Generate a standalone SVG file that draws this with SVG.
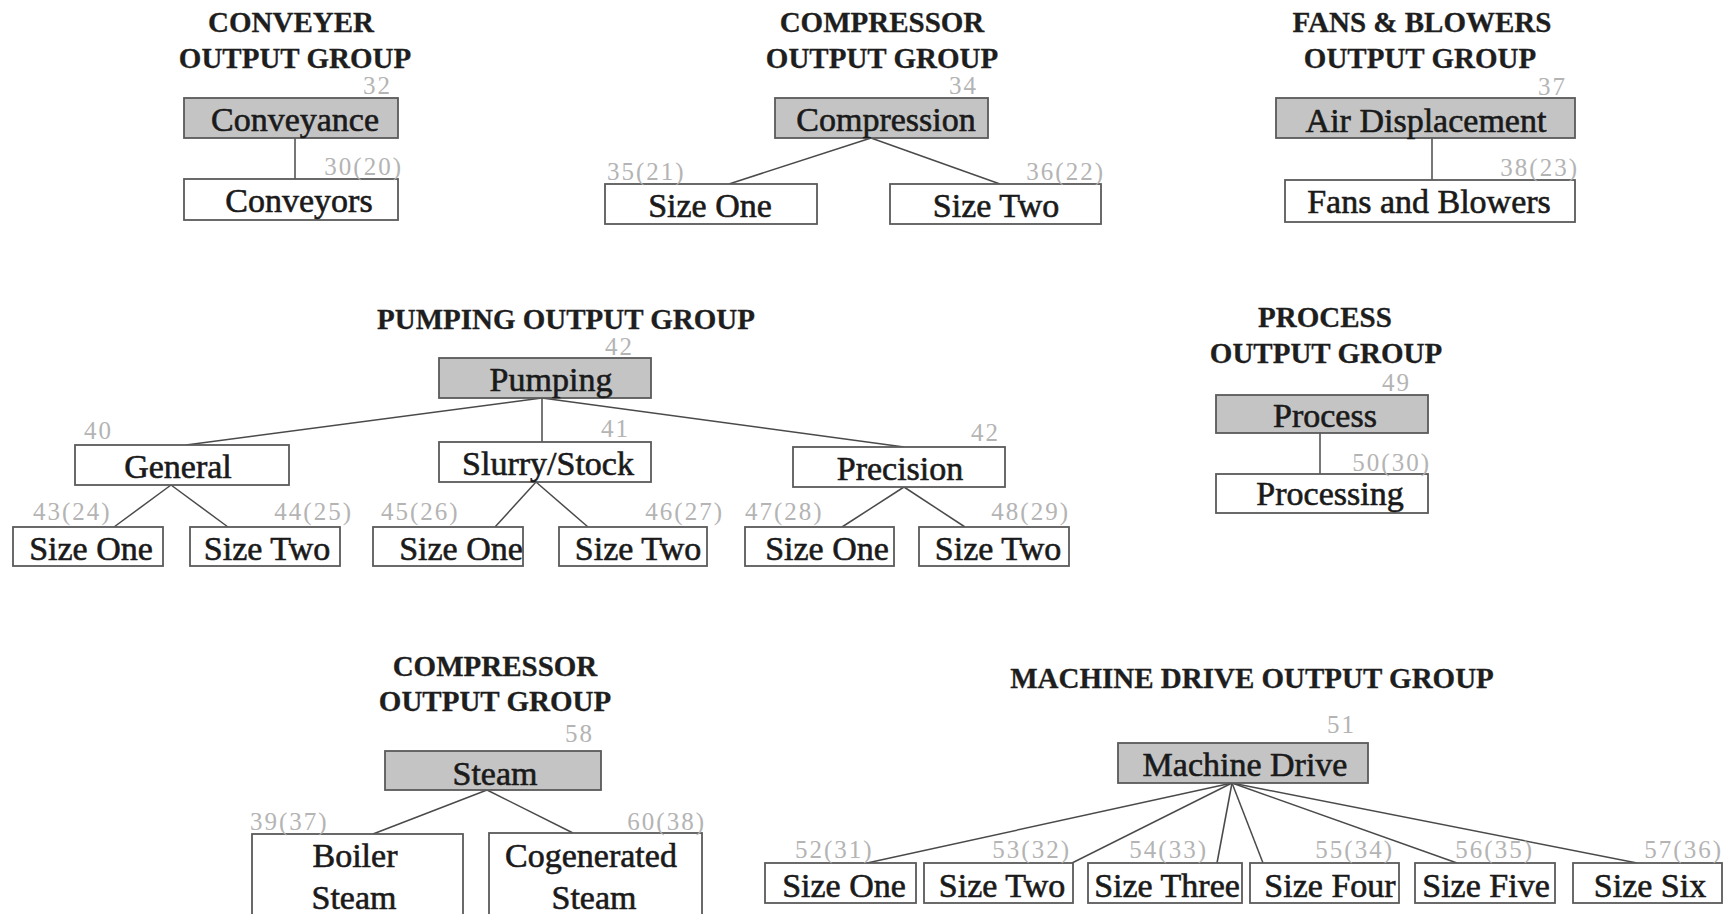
<svg xmlns="http://www.w3.org/2000/svg" width="1731" height="914" viewBox="0 0 1731 914">
  <style>
    .title { font-family: "Liberation Serif", "Times New Roman", serif; font-weight: bold; font-size: 29px; fill: #1e1e1e; stroke: #1e1e1e; stroke-width: 0.3; text-anchor: middle; }
    .lbl { font-family: "Liberation Serif", "Times New Roman", serif; font-size: 34px; fill: #1a1a1a; stroke: #1a1a1a; stroke-width: 0.6; text-anchor: middle; }
    .num { font-family: "Liberation Serif", "Times New Roman", serif; font-size: 25px; fill: #b4b4b4; letter-spacing: 2px; }
    .end { text-anchor: end; }
    .box { fill: #ffffff; stroke: #5a5a5a; stroke-width: 1.8; }
    .head { fill: #c4c4c4; stroke: #5a5a5a; stroke-width: 1.8; }
    .conn line { stroke: #4a4a4a; stroke-width: 1.5; }
  </style>
  <rect width="1731" height="914" fill="#ffffff"/>

  <!-- group titles -->
  <g id="titles">
    <text class="title" x="291" y="32">CONVEYER</text>
    <text class="title" x="295" y="68">OUTPUT GROUP</text>
    <text class="title" x="882" y="32">COMPRESSOR</text>
    <text class="title" x="882" y="68">OUTPUT GROUP</text>
    <text class="title" x="1422" y="32">FANS &amp; BLOWERS</text>
    <text class="title" x="1420" y="68">OUTPUT GROUP</text>
    <text class="title" x="566" y="329">PUMPING OUTPUT GROUP</text>
    <text class="title" x="1325" y="327">PROCESS</text>
    <text class="title" x="1326" y="363">OUTPUT GROUP</text>
    <text class="title" x="495" y="676">COMPRESSOR</text>
    <text class="title" x="495" y="711">OUTPUT GROUP</text>
    <text class="title" x="1252" y="688">MACHINE DRIVE OUTPUT GROUP</text>
  </g>

  <!-- connectors -->
  <g id="connectors" class="conn">
    <line x1="295" y1="138" x2="295" y2="179"/>
    <line x1="871" y1="138" x2="729" y2="184"/>
    <line x1="871" y1="138" x2="1000" y2="184"/>
    <line x1="1432" y1="138" x2="1432" y2="180"/>

    <line x1="542" y1="398" x2="186" y2="445"/>
    <line x1="542" y1="398" x2="542" y2="442"/>
    <line x1="542" y1="398" x2="904" y2="447"/>
    <line x1="171" y1="485" x2="114" y2="527"/>
    <line x1="171" y1="485" x2="228" y2="527"/>
    <line x1="536" y1="482" x2="495" y2="527"/>
    <line x1="536" y1="482" x2="588" y2="527"/>
    <line x1="904" y1="487" x2="842" y2="527"/>
    <line x1="904" y1="487" x2="965" y2="527"/>

    <line x1="1320" y1="433" x2="1320" y2="474"/>

    <line x1="487" y1="790" x2="373" y2="834"/>
    <line x1="487" y1="790" x2="573" y2="833"/>

    <line x1="1232" y1="783" x2="867" y2="863"/>
    <line x1="1232" y1="783" x2="1072" y2="863"/>
    <line x1="1232" y1="783" x2="1217" y2="863"/>
    <line x1="1232" y1="783" x2="1263" y2="863"/>
    <line x1="1232" y1="783" x2="1457" y2="863"/>
    <line x1="1232" y1="783" x2="1637" y2="863"/>
  </g>

  <!-- conveyer group -->
  <g id="n32-conveyance">
    <rect class="head" x="184" y="98" width="214" height="40"/>
    <text class="lbl" x="295" y="131">Conveyance</text>
    <text class="num end" x="392" y="94">32</text>
  </g>
  <g id="n30-conveyors">
    <rect class="box" x="184" y="179" width="214" height="41"/>
    <text class="lbl" x="299" y="212">Conveyors</text>
    <text class="num end" x="403" y="175">30(20)</text>
  </g>

  <!-- compressor group -->
  <g id="n34-compression">
    <rect class="head" x="775" y="98" width="213" height="40"/>
    <text class="lbl" x="886" y="131">Compression</text>
    <text class="num end" x="978" y="94">34</text>
  </g>
  <g id="n35-size-one">
    <rect class="box" x="605" y="184" width="212" height="40"/>
    <text class="lbl" x="710" y="217">Size One</text>
    <text class="num" x="607" y="180">35(21)</text>
  </g>
  <g id="n36-size-two">
    <rect class="box" x="890" y="184" width="211" height="40"/>
    <text class="lbl" x="996" y="217">Size Two</text>
    <text class="num end" x="1105" y="180">36(22)</text>
  </g>

  <!-- fans and blowers group -->
  <g id="n37-air-displacement">
    <rect class="head" x="1276" y="98" width="299" height="40"/>
    <text class="lbl" x="1426" y="132">Air Displacement</text>
    <text class="num end" x="1567" y="95">37</text>
  </g>
  <g id="n38-fans-blowers">
    <rect class="box" x="1285" y="180" width="290" height="42"/>
    <text class="lbl" x="1429" y="213">Fans and Blowers</text>
    <text class="num end" x="1579" y="176">38(23)</text>
  </g>

  <!-- pumping group -->
  <g id="n42-pumping">
    <rect class="head" x="439" y="358" width="212" height="40"/>
    <text class="lbl" x="551" y="391">Pumping</text>
    <text class="num end" x="634" y="355">42</text>
  </g>
  <g id="n40-general">
    <rect class="box" x="75" y="445" width="214" height="40"/>
    <text class="lbl" x="178" y="478">General</text>
    <text class="num" x="84" y="439">40</text>
  </g>
  <g id="n41-slurry">
    <rect class="box" x="439" y="442" width="212" height="40"/>
    <text class="lbl" x="548" y="475">Slurry/Stock</text>
    <text class="num end" x="630" y="437">41</text>
  </g>
  <g id="n42-precision">
    <rect class="box" x="793" y="447" width="212" height="40"/>
    <text class="lbl" x="900" y="480">Precision</text>
    <text class="num end" x="1000" y="441">42</text>
  </g>
  <g id="n43-size-one">
    <rect class="box" x="13" y="527" width="150" height="39"/>
    <text class="lbl" x="91" y="560">Size One</text>
    <text class="num" x="33" y="520">43(24)</text>
  </g>
  <g id="n44-size-two">
    <rect class="box" x="190" y="527" width="150" height="39"/>
    <text class="lbl" x="267" y="560">Size Two</text>
    <text class="num end" x="353" y="520">44(25)</text>
  </g>
  <g id="n45-size-one">
    <rect class="box" x="373" y="527" width="150" height="39"/>
    <text class="lbl" x="461" y="560">Size One</text>
    <text class="num" x="381" y="520">45(26)</text>
  </g>
  <g id="n46-size-two">
    <rect class="box" x="559" y="527" width="148" height="39"/>
    <text class="lbl" x="638" y="560">Size Two</text>
    <text class="num end" x="724" y="520">46(27)</text>
  </g>
  <g id="n47-size-one">
    <rect class="box" x="745" y="527" width="149" height="39"/>
    <text class="lbl" x="827" y="560">Size One</text>
    <text class="num" x="745" y="520">47(28)</text>
  </g>
  <g id="n48-size-two">
    <rect class="box" x="919" y="527" width="150" height="39"/>
    <text class="lbl" x="998" y="560">Size Two</text>
    <text class="num end" x="1070" y="520">48(29)</text>
  </g>

  <!-- process group -->
  <g id="n49-process">
    <rect class="head" x="1216" y="395" width="212" height="38"/>
    <text class="lbl" x="1325" y="427">Process</text>
    <text class="num end" x="1411" y="391">49</text>
  </g>
  <g id="n50-processing">
    <rect class="box" x="1216" y="474" width="212" height="39"/>
    <text class="lbl" x="1330" y="505">Processing</text>
    <text class="num end" x="1431" y="471">50(30)</text>
  </g>

  <!-- steam group -->
  <g id="n58-steam">
    <rect class="head" x="385" y="751" width="216" height="39"/>
    <text class="lbl" x="495" y="785">Steam</text>
    <text class="num end" x="594" y="742">58</text>
  </g>
  <g id="n59-boiler-steam">
    <rect class="box" x="252" y="834" width="211" height="100"/>
    <text class="lbl" x="355" y="867">Boiler</text>
    <text class="lbl" x="354" y="909">Steam</text>
    <text class="num" x="250" y="830">39(37)</text>
  </g>
  <g id="n60-cogenerated-steam">
    <rect class="box" x="489" y="833" width="213" height="100"/>
    <text class="lbl" x="591" y="867">Cogenerated</text>
    <text class="lbl" x="594" y="909">Steam</text>
    <text class="num end" x="706" y="830">60(38)</text>
  </g>

  <!-- machine drive group -->
  <g id="n51-machine-drive">
    <rect class="head" x="1118" y="743" width="250" height="40"/>
    <text class="lbl" x="1245" y="776">Machine Drive</text>
    <text class="num end" x="1356" y="733">51</text>
  </g>
  <g id="n52-size-one">
    <rect class="box" x="765" y="863" width="151" height="40"/>
    <text class="lbl" x="844" y="897">Size One</text>
    <text class="num" x="795" y="858">52(31)</text>
  </g>
  <g id="n53-size-two">
    <rect class="box" x="924" y="863" width="149" height="40"/>
    <text class="lbl" x="1002" y="897">Size Two</text>
    <text class="num end" x="1071" y="858">53(32)</text>
  </g>
  <g id="n54-size-three">
    <rect class="box" x="1088" y="863" width="154" height="40"/>
    <text class="lbl" x="1167" y="897">Size Three</text>
    <text class="num end" x="1208" y="858">54(33)</text>
  </g>
  <g id="n55-size-four">
    <rect class="box" x="1250" y="863" width="149" height="40"/>
    <text class="lbl" x="1330" y="897">Size Four</text>
    <text class="num end" x="1394" y="858">55(34)</text>
  </g>
  <g id="n56-size-five">
    <rect class="box" x="1415" y="863" width="140" height="40"/>
    <text class="lbl" x="1486" y="897">Size Five</text>
    <text class="num end" x="1534" y="858">56(35)</text>
  </g>
  <g id="n57-size-six">
    <rect class="box" x="1573" y="863" width="149" height="40"/>
    <text class="lbl" x="1650" y="897">Size Six</text>
    <text class="num end" x="1723" y="858">57(36)</text>
  </g>
</svg>
